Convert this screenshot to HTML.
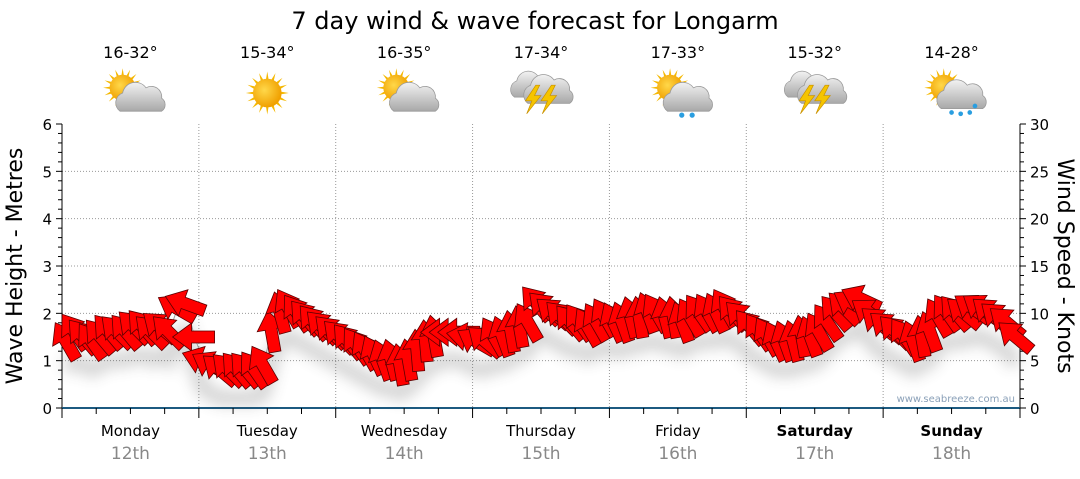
<!DOCTYPE html>
<html><head><meta charset="utf-8"><style>
body{margin:0;background:#fff;font-family:"DejaVu Sans","Liberation Sans",sans-serif;}
svg text{font-family:"DejaVu Sans","Liberation Sans",sans-serif;}
</style></head><body>
<svg id="c" width="1080" height="475" xmlns="http://www.w3.org/2000/svg">
<defs>
<filter id="blur" x="-20%" y="-50%" width="140%" height="200%"><feGaussianBlur stdDeviation="7"/></filter>
<radialGradient id="sun" cx="0.4" cy="0.4" r="0.6"><stop offset="0" stop-color="#ffd84a"/><stop offset="1" stop-color="#f0a000"/></radialGradient>
<linearGradient id="cloud" x1="0" y1="0" x2="0" y2="1"><stop offset="0" stop-color="#f2f2f2"/><stop offset="1" stop-color="#a8a8a8"/></linearGradient>
</defs>
<text x="535" y="29" font-size="24" text-anchor="middle" fill="#000">7 day wind &amp; wave forecast for Longarm</text>
<g id="grid"></g>
<g id="axes"></g>
<g id="shadow" filter="url(#blur)" opacity="0.22"></g>
<g id="line"></g>
<g id="arrows"></g>
<g id="icons"></g>
<text x="1015" y="402" font-size="10" text-anchor="end" fill="#8aa0b8">www.seabreeze.com.au</text>
<text transform="translate(22,266) rotate(-90)" font-size="22" text-anchor="middle" fill="#000">Wave Height - Metres</text>
<text transform="translate(1058,266) rotate(90)" font-size="22" text-anchor="middle" fill="#000">Wind Speed - Knots</text>
</svg>
<script>
const days = ["Monday","Tuesday","Wednesday","Thursday","Friday","Saturday","Sunday"];
const dates = ["12th","13th","14th","15th","16th","17th","18th"];
const temps = ["16-32°","15-34°","16-35°","17-34°","17-33°","15-32°","14-28°"];
const weather = ["partly","sunny","partly","storm","showers","storm","rain"];
const waveTicks = [0,1,2,3,4,5,6];
const windTicks = [0,5,10,15,20,25,30];
const windSpeed = [
 7,8,7.5,7,7.5,8,8,8,8.5,8.5,8,8.5,8,10.5,11,7.5,
 5,4.5,4,4,4,4,4,4.5,8,10,10.5,10,9.5,9,8.5,8,
 7.5,7,6.5,6,5.5,5,5,4.5,5,6,7,7.5,8,8,8,7.5,
 7,7,7.5,7.5,8,8.5,9,11,10.5,10,9.5,9,9,8.5,9,9.5,
 9,9,9.5,9.5,10,10,9.5,9.5,9,9.5,10,10,10,10.5,10,9.5,
 8.5,8,7.5,7,7,7,7.5,7.5,8,9,10,10.5,11,11.5,10,9,
 8.5,8,7.5,7,7.5,8,9.5,10,10,10,10.5,10.5,10,9.5,9,7.5];
const windDir = [
 150,145,140,145,140,140,135,140,135,140,135,130,135,120,110,90,
 110,120,130,135,140,140,145,150,170,165,150,145,140,140,135,135,
 135,140,145,150,155,160,165,170,170,175,175,170,90,90,90,100,
 120,130,150,160,170,170,150,140,135,130,135,140,145,150,150,150,
 155,160,165,170,160,150,165,170,160,150,145,150,155,150,140,135,
 140,145,150,155,160,165,170,160,150,145,140,135,120,115,125,130,
 130,135,145,160,170,160,150,145,140,130,125,125,130,130,130,130];

const NS="http://www.w3.org/2000/svg";
const X0=62,X1=1020,Y0=408,Y6=124,DW=(X1-X0)/7;
const N=windSpeed.length, PER=N/7;
const yWave=v=>Y0-(Y0-Y6)*v/6;
const yWind=k=>Y0-(Y0-Y6)*k/30;
const xIdx=i=>X0+(i+0.5)*DW/PER;
function mk(tag,attrs,parent){const e=document.createElementNS(NS,tag);for(const k in attrs)e.setAttribute(k,attrs[k]);document.getElementById(parent).appendChild(e);return e;}
waveTicks.forEach(v=>{if(v>0&&v<6){const l=mk('line',{x1:X0,x2:X1,y1:yWave(v),y2:yWave(v),stroke:'#999','stroke-dasharray':'1,2'},'grid');}});
for(let d=1;d<7;d++){const l=mk('line',{x1:X0+d*DW,x2:X0+d*DW,y1:Y6,y2:Y0,stroke:'#999','stroke-dasharray':'1,2'},'grid');}
mk('line',{x1:X0,x2:X0,y1:Y6,y2:Y0+6,stroke:'#000'},'axes');
mk('line',{x1:X1,x2:X1,y1:Y6,y2:Y0+6,stroke:'#000'},'axes');
mk('line',{x1:X0,x2:X1,y1:Y0,y2:Y0,stroke:'#1c5a80','stroke-width':2},'axes');
for(let m=0;m<=30;m++){const y=Y0-(Y0-Y6)*m/30;const len=m%5==0?6:4;
 mk('line',{x1:X0-len,x2:X0,y1:y,y2:y,stroke:'#000'},'axes');mk('line',{x1:X1,x2:X1+len,y1:y,y2:y,stroke:'#000'},'axes');}
waveTicks.forEach(v=>{const t=mk('text',{x:X0-10,y:yWave(v)+6,'font-size':15,'text-anchor':'end'},'axes');t.textContent=v;});
windTicks.forEach(v=>{const t=mk('text',{x:X1+10,y:yWind(v)+6,'font-size':15},'axes');t.textContent=v;});
for(let q=0;q<=28;q++){const x=X0+q*DW/4;mk('line',{x1:x,x2:x,y1:Y0,y2:Y0+(q%4==0?10:6),stroke:'#000'},'axes');}
days.forEach((d,i)=>{const cx=X0+(i+0.5)*DW;const bold=i>=5;
 const t=mk('text',{x:cx,y:436,'font-size':15,'text-anchor':'middle','font-weight':bold?'bold':'normal'},'axes');t.textContent=d;
 const t2=mk('text',{x:cx,y:459,'font-size':17,'text-anchor':'middle',fill:'#888'},'axes');t2.textContent=dates[i];
 const t3=mk('text',{x:cx,y:58,'font-size':16,'text-anchor':'middle'},'icons');t3.textContent=temps[i];
 const g=mk('g',{transform:`translate(${cx},93) scale(1.3)`},'icons');
 const w=weather[i];let s='';
 const sun=(r)=>{let o='';for(let k=0;k<16;k++){const a=k*Math.PI/8;o+=`<polygon points="${Math.cos(a-0.15)*r*0.8},${Math.sin(a-0.15)*r*0.8} ${Math.cos(a)*r*1.5},${Math.sin(a)*r*1.5} ${Math.cos(a+0.15)*r*0.8},${Math.sin(a+0.15)*r*0.8}" fill="#f5b800"/>`;}return o+`<circle r="${r}" fill="url(#sun)"/>`;};
 const cloud=(dx,dy,sc)=>`<g transform="translate(${dx},${dy}) scale(${sc})"><path d="M-16,8 a8,8 0 0 1 2,-14 a10,10 0 0 1 18,-4 a8,8 0 0 1 12,8 a6,6 0 0 1 0,10 z" fill="url(#cloud)" stroke="#999" stroke-width="0.6"/></g>`;
 const bolt=(dx)=>`<polygon transform="translate(${dx},0)" points="2,-6 -6,6 -1,6 -5,16 6,2 1,2 5,-6" fill="#f5c400" stroke="#c89000" stroke-width="0.5"/>`;
 if(w=='sunny') s=sun(11);
 else if(w=='partly') s=`<g transform="translate(-6,-4)">${sun(10)}</g>`+cloud(8,6,1);
 else if(w=='showers') s=`<g transform="translate(-6,-4)">${sun(10)}</g>`+cloud(8,6,1)+`<circle cx="3" cy="17" r="2" fill="#2a9ee0"/><circle cx="11" cy="17" r="2" fill="#2a9ee0"/>`;
 else if(w=='rain') s=`<g transform="translate(-6,-4)">${sun(10)}</g>`+cloud(8,4,1)+`<circle cx="0" cy="15" r="1.8" fill="#2a9ee0"/><circle cx="7" cy="16" r="1.8" fill="#2a9ee0"/><circle cx="14" cy="15" r="1.8" fill="#2a9ee0"/><circle cx="18" cy="10" r="1.8" fill="#2a9ee0"/>`;
 else s=cloud(-6,-4,0.9)+cloud(6,0,1)+bolt(-6)+bolt(6);
 g.innerHTML=s;
});
mk('polyline',{points:windSpeed.map((k,i)=>`${xIdx(i)},${yWind(k)}`).join(' '),fill:'none',stroke:'#999','stroke-width':1},'line');
mk('polyline',{points:windSpeed.map((k,i)=>`${xIdx(i)},${yWind(k)+28}`).join(' '),fill:'none',stroke:'#444','stroke-width':16},'shadow');
windSpeed.forEach((k,i)=>{const cx=xIdx(i),cy=yWind(k);
 const rot=windDir[i]+90;
 const a=mk('polygon',{points:'-20,-6 3,-6 3,-14 22,0 3,14 3,6 -20,6',fill:'#ff0000',stroke:'#5a0000','stroke-width':0.8,transform:`translate(${cx},${cy}) rotate(${rot})`},'arrows');
 
 
});
</script>
</body></html>
